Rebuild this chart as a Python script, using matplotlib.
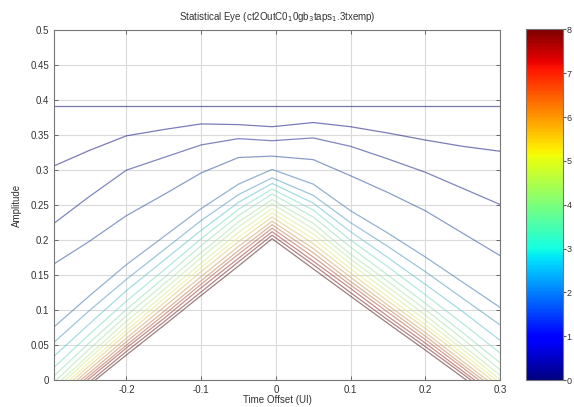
import numpy as np
import matplotlib
matplotlib.use('Agg')
import matplotlib.pyplot as plt
from matplotlib import cm, colors

plt.rcParams['font.family'] = ['Liberation Sans', 'DejaVu Sans']

# time offset samples (UI) where each contour is read
t_ui = [-0.297, -0.25, -0.2, -0.15, -0.1, -0.05, -0.005, 0.05, 0.1, 0.15, 0.2, 0.25, 0.3]

# contour levels, outermost first
levels = [0.4, 0.8, 1.2, 1.6, 2.0, 2.4, 2.8, 3.2, 3.6, 4.0,
          4.4, 4.8, 5.2, 5.6, 6.0, 6.4, 6.8, 7.2, 7.6, 8.0]

# amplitude of each contour at t_ui
c00 = [0.391, 0.391, 0.391, 0.391, 0.391, 0.391, 0.391, 0.391, 0.391, 0.391, 0.391, 0.391, 0.391]
c01 = [0.306, 0.328, 0.349, 0.358, 0.366, 0.365, 0.362, 0.368, 0.362, 0.353, 0.343, 0.334, 0.327]
c02 = [0.224, 0.262, 0.300, 0.318, 0.336, 0.345, 0.342, 0.346, 0.334, 0.316, 0.297, 0.274, 0.251]
c03 = [0.166, 0.198, 0.235, 0.265, 0.296, 0.318, 0.320, 0.315, 0.292, 0.268, 0.242, 0.210, 0.178]
c04 = [0.076, 0.120, 0.165, 0.205, 0.245, 0.280, 0.301, 0.280, 0.242, 0.210, 0.176, 0.140, 0.104]
c05 = [0.054, 0.099, 0.144, 0.186, 0.228, 0.265, 0.289, 0.264, 0.225, 0.191, 0.155, 0.117, 0.079]
c06 = [0.034, 0.080, 0.128, 0.171, 0.214, 0.254, 0.281, 0.253, 0.212, 0.175, 0.137, 0.098, 0.057]
c07 = [0.018, 0.065, 0.113, 0.157, 0.202, 0.244, 0.273, 0.243, 0.200, 0.162, 0.122, 0.081, 0.039]
c08 = [0.006, 0.053, 0.101, 0.146, 0.192, 0.235, 0.266, 0.233, 0.190, 0.150, 0.110, 0.068, 0.025]
c09 = [-0.003, 0.044, 0.092, 0.137, 0.182, 0.226, 0.258, 0.224, 0.180, 0.141, 0.101, 0.059, 0.015]
c10 = [-0.010, 0.036, 0.084, 0.129, 0.175, 0.219, 0.252, 0.216, 0.173, 0.133, 0.093, 0.050, 0.007]
c11 = [-0.015, 0.031, 0.077, 0.122, 0.167, 0.211, 0.245, 0.209, 0.166, 0.126, 0.086, 0.044, 0.001]
c12 = [-0.020, 0.025, 0.071, 0.116, 0.161, 0.204, 0.239, 0.202, 0.159, 0.119, 0.079, 0.038, -0.004]
c13 = [-0.024, 0.020, 0.066, 0.110, 0.155, 0.198, 0.233, 0.195, 0.153, 0.113, 0.074, 0.033, -0.009]
c14 = [-0.029, 0.015, 0.060, 0.104, 0.148, 0.191, 0.227, 0.188, 0.147, 0.107, 0.068, 0.027, -0.014]
c15 = [-0.032, 0.010, 0.055, 0.098, 0.142, 0.185, 0.222, 0.182, 0.141, 0.102, 0.063, 0.022, -0.018]
c16 = [-0.036, 0.006, 0.050, 0.093, 0.137, 0.180, 0.217, 0.176, 0.136, 0.097, 0.058, 0.018, -0.023]
c17 = [-0.040, 0.002, 0.046, 0.088, 0.132, 0.174, 0.212, 0.170, 0.131, 0.091, 0.053, 0.013, -0.027]
c18 = [-0.043, -0.003, 0.041, 0.083, 0.126, 0.169, 0.207, 0.165, 0.125, 0.086, 0.048, 0.009, -0.031]
c19 = [-0.047, -0.007, 0.036, 0.078, 0.121, 0.163, 0.202, 0.159, 0.120, 0.081, 0.043, 0.004, -0.035]

contours = [c00, c01, c02, c03, c04, c05, c06, c07, c08, c09,
            c10, c11, c12, c13, c14, c15, c16, c17, c18, c19]

x_ticks = [-0.2, -0.1, 0, 0.1, 0.2, 0.3]
y_ticks = [0, 0.05, 0.1, 0.15, 0.2, 0.25, 0.3, 0.35, 0.4, 0.45, 0.5]
cb_ticks = [0, 1, 2, 3, 4, 5, 6, 7, 8]

fig = plt.figure(figsize=(5.74, 4.07), dpi=100)
ax = fig.add_axes([0.094, 0.066, 0.777, 0.860])

cmap = matplotlib.colormaps['jet']
norm = colors.Normalize(vmin=0, vmax=8)


def washed(lev):
    # contour colour: jet pulled towards its own grey, then thinned over white
    r, g, b, _ = cmap(norm(lev))
    lum = 0.299 * r + 0.587 * g + 0.114 * b
    return tuple(0.45 * c + 0.55 * lum for c in (r, g, b))


for lev, amp in zip(levels, contours):
    ax.plot(t_ui, amp, color=washed(lev), alpha=0.55, linewidth=0.9)

ax.set_xlim(-0.297, 0.3)
ax.set_ylim(0, 0.5)
ax.set_xticks(x_ticks)
ax.set_xticklabels(['-0.2', '-0.1', '0', '0.1', '0.2', '0.3'])
ax.set_yticks(y_ticks)
ax.set_yticklabels(['0', '0.05', '0.1', '0.15', '0.2', '0.25', '0.3', '0.35', '0.4', '0.45', '0.5'])
ax.grid(True, color='#dadada', linewidth=0.8)
ax.set_axisbelow(True)
ax.tick_params(direction='in', length=3, width=0.6, colors='#555555', labelcolor='#333333',
               labelsize=7, top=True, right=True)
for s in ax.spines.values():
    s.set_color('#777777')
    s.set_linewidth(0.8)

ax.set_xlabel('Time Offset (UI)', fontsize=7, color='#333333', labelpad=0)
ax.set_ylabel('Amplitude', fontsize=7, color='#333333', labelpad=6)
ax.set_title(r'Statistical Eye (ct2OutC0$_1$0gb$_3$taps$_1$.3txemp)', fontsize=7,
             color='#333333', pad=7)

# colorbar on the right
cax = fig.add_axes([0.917, 0.066, 0.063, 0.862])
sm = cm.ScalarMappable(norm=norm, cmap=cmap)
cb = fig.colorbar(sm, cax=cax, ticks=cb_ticks)
cb.ax.tick_params(labelsize=6.5, length=2, colors='#555555', labelcolor='#333333', pad=1)
cb.outline.set_edgecolor('#777777')

fig.savefig('out.png', dpi=100)
